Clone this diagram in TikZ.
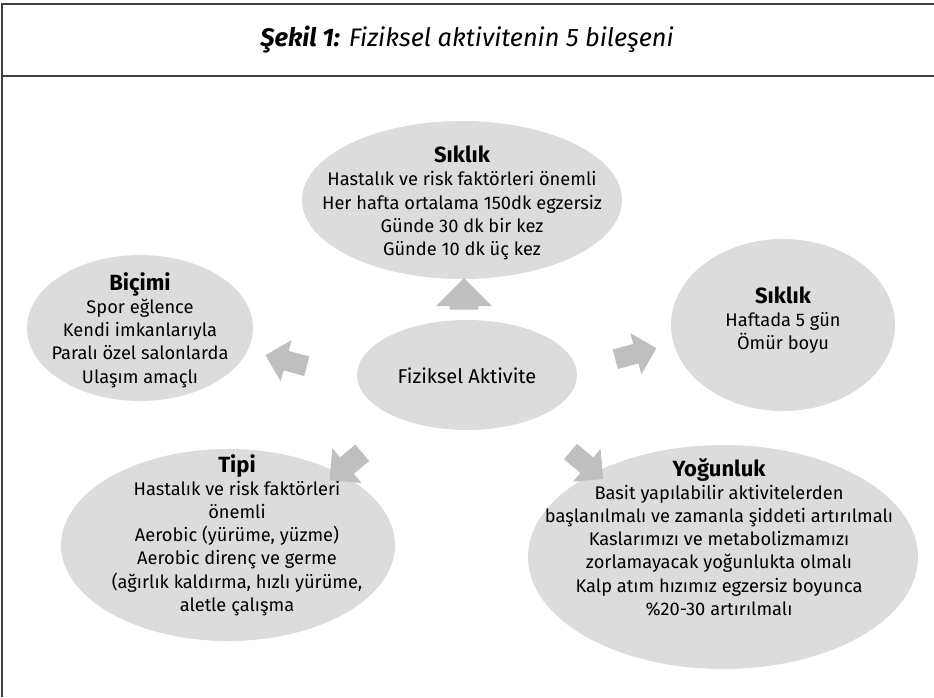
\documentclass[tikz,border=0pt]{standalone}
\usepackage{fontspec}
\setmainfont{Fira Sans}
\usetikzlibrary{shapes.arrows}

\definecolor{framegray}{HTML}{404040}
\definecolor{bubblegray}{HTML}{DCDCDC}
\definecolor{arrowgray}{HTML}{BFBFBF}

\tikzset{every picture/.style={line width=0.75pt}}
\tikzset{
  frameline/.style={draw=framegray, line width=1.5pt},
  bubble/.style={fill=bubblegray},
  bubbletext/.style={align=center, inner sep=0pt, font=\fontsize{13.7}{17.4}\selectfont},
  blockarrow/.style={single arrow, fill=arrowgray, draw=none, inner sep=5pt,
    single arrow head extend=6pt, minimum height=32pt},
}
\newcommand{\bubblehead}[1]{{\fontsize{16.5}{17.4}\selectfont\bfseries #1}}

\begin{document}
\begin{tikzpicture}[x=0.75pt,y=0.75pt,yscale=-1,xscale=1]
\useasboundingbox (0,0) rectangle (934,697);

%Straight Lines [frame]
\draw [frameline]  (2,697) -- (2,4) -- (934,4) ;
%Straight Lines [title rule]
\draw [frameline]  (2,76) -- (934,76) ;

% Text Node
\node (title) at (467,40) {\fontsize{19}{22}\selectfont\itshape\textbf{Şekil 1:} Fiziksel aktivitenin 5 bileşeni};

%Shape: Ellipse [top]
\fill [bubble] (462,200) ellipse [x radius=160, y radius=79] ;
%Shape: Ellipse [left]
\fill [bubble] (140,328) ellipse [x radius=113, y radius=73] ;
%Shape: Ellipse [right]
\fill [bubble] (783,325) ellipse [x radius=112, y radius=86] ;
%Shape: Ellipse [center]
\fill [bubble] (467,375) ellipse [x radius=110, y radius=55] ;
%Shape: Ellipse [lower left]
\fill [bubble] (228,545) ellipse [x radius=167, y radius=96] ;
%Shape: Ellipse [lower right]
\fill [bubble] (723,557) ellipse [x radius=195, y radius=112] ;

% Text Node
\node [bubbletext] (siklikTop) at (462,203) {\bubblehead{Sıklık}\\Hastalık ve risk faktörleri önemli\\Her hafta ortalama 150dk egzersiz\\Günde 30 dk bir kez\\Günde 10 dk üç kez};
% Text Node
\node [bubbletext] (bicimi) at (140,330) {\bubblehead{Biçimi}\\Spor eğlence\\Kendi imkanlarıyla\\Paralı özel salonlarda\\Ulaşım amaçlı};
% Text Node
\node [bubbletext] (siklikRight) at (783,320) {\bubblehead{Sıklık}\\Haftada 5 gün\\Ömür boyu};
% Text Node
\node [bubbletext] (fiziksel) at (467,376) {\fontsize{15}{17}\selectfont Fiziksel Aktivite};
% Text Node
\node [bubbletext] (tipi) at (237,535) {\bubblehead{Tipi}\\Hastalık ve risk faktörleri\\önemli\\Aerobic (yürüme, yüzme)\\Aerobic direnç ve germe\\(ağırlık kaldırma, hızlı yürüme,\\aletle çalışma};
% Text Node
\node [bubbletext] (yogunluk) at (719,537) {\bubblehead{Yoğunluk}\\Basit yapılabilir aktivitelerden\\başlanılmalı ve zamanla şiddeti artırılmalı\\Kaslarımızı ve metabolizmamızı\\zorlamayacak yoğunlukta olmalı\\Kalp atım hızımız egzersiz boyunca\\\%20-30 artırılmalı};

%Shape: Block Arrows
\node [blockarrow, rotate=90, minimum height=18pt, minimum width=42pt, inner sep=6pt] (arrUp) at (464,301) {};
\node [blockarrow, rotate=165, minimum width=32pt] (arrLeft) at (291,362) {};
\node [blockarrow, rotate=15, minimum width=32pt] (arrRight) at (631,355) {};
\node [blockarrow, rotate=-140, minimum width=34pt] (arrDownL) at (350,463) {};
\node [blockarrow, rotate=-40, minimum width=32pt] (arrDownR) at (583,462) {};

\end{tikzpicture}
\end{document}
